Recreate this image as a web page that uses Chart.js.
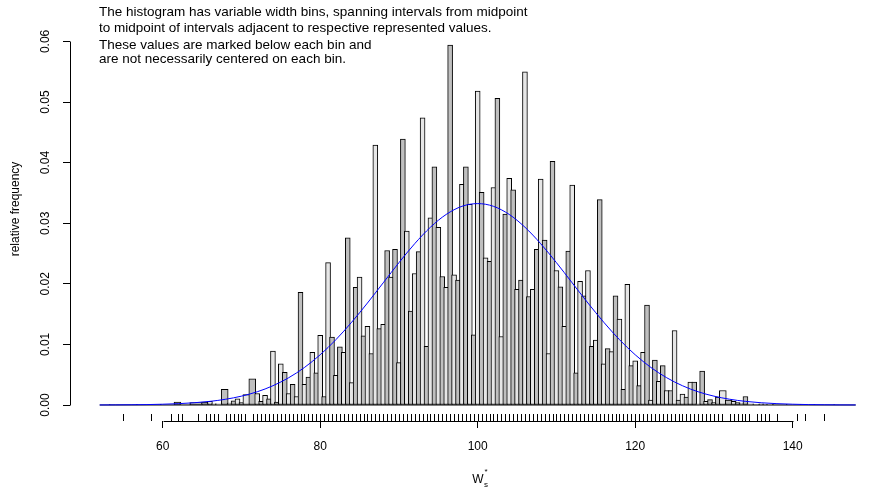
<!DOCTYPE html>
<html><head><meta charset="utf-8">
<script src="https://cdn.jsdelivr.net/npm/chart.js@4/dist/chart.umd.min.js"></script>
<style>html,body{margin:0;padding:0;background:#fff}#wrap{width:875px;height:487px;position:relative}</style>
</head><body><div id="wrap"><canvas id="c" width="875" height="487"></canvas></div>
<script>
// ---- data ----
const binValues = [
  55.0, 58.5, 61.0, 62.0, 62.5, 64.5, 65.5, 66.0, 66.5, 67.0, 68.0, 68.5, 69.0, 69.5, 70.0, 70.5,
  71.5, 72.0, 72.5, 73.0, 73.5, 74.0, 74.5, 75.0, 75.5, 76.0, 76.5, 77.0, 77.5, 78.0, 78.5, 79.0, 79.5,
  80.0, 80.5, 81.0, 81.5, 82.0, 82.5, 83.0, 83.5, 84.0, 84.5, 85.0, 85.5, 86.0, 86.5, 87.0, 87.5,
  88.0, 88.5, 89.0, 89.5, 90.0, 90.5, 91.0, 91.5, 92.0, 92.5, 93.0, 93.5, 94.0, 94.5, 95.0, 95.5,
  96.0, 96.5, 97.0, 97.5, 98.0, 98.5, 99.0, 99.5, 100.0, 100.5, 101.0, 101.5, 102.0, 102.5, 103.0, 103.5,
  104.0, 104.5, 105.0, 105.5, 106.0, 106.5, 107.0, 107.5, 108.0, 108.5, 109.0, 109.5, 110.0, 110.5, 111.0, 111.5,
  112.0, 112.5, 113.0, 113.5, 114.0, 114.5, 115.0, 115.5, 116.0, 116.5, 117.0, 117.5, 118.0, 118.5, 119.0, 119.5,
  120.0, 120.5, 121.0, 121.5, 122.0, 122.5, 123.0, 123.5, 124.0, 124.5, 125.0, 125.5, 126.0, 126.5, 127.0, 127.5,
  128.0, 128.5, 129.0, 129.5, 130.0, 130.5, 131.0, 132.0, 132.5, 133.0, 133.5, 134.0, 134.5, 135.5, 136.0, 136.5,
  137.0, 138.0, 140.5, 141.5, 144.0
];
const relFreq = [
  0.0001, 0.0001, 0.0001, 0.0005, 0.0001, 0.0004, 0.0005, 0.0006, 0.0002, 0.0002, 0.0026, 0.0003, 0.0007, 0.0010, 0.0004, 0.0017,
  0.0043, 0.0019, 0.0006, 0.0016, 0.0010, 0.0089, 0.0005, 0.0068, 0.0054, 0.0019, 0.0034, 0.0014, 0.0186, 0.0034, 0.0046, 0.0087, 0.0053,
  0.0115, 0.0014, 0.0235, 0.0112, 0.0049, 0.0096, 0.0087, 0.0276, 0.0037, 0.0194, 0.0211, 0.0114, 0.0130, 0.0085, 0.0429, 0.0126,
  0.0133, 0.0255, 0.0211, 0.0257, 0.0070, 0.0439, 0.0287, 0.0155, 0.0217, 0.0253, 0.0474, 0.0097, 0.0309, 0.0393, 0.0293, 0.0212,
  0.0194, 0.0594, 0.0215, 0.0206, 0.0364, 0.0393, 0.0331, 0.0116, 0.0518, 0.0351, 0.0243, 0.0237, 0.0359, 0.0506, 0.0113, 0.0315,
  0.0374, 0.0355, 0.0191, 0.0206, 0.0550, 0.0179, 0.0191, 0.0257, 0.0373, 0.0272, 0.0085, 0.0402, 0.0222, 0.0195, 0.0130, 0.0254,
  0.0363, 0.0053, 0.0204, 0.0180, 0.0222, 0.0097, 0.0107, 0.0339, 0.0068, 0.0093, 0.0088, 0.0180, 0.0142, 0.0026, 0.0199, 0.0065,
  0.0073, 0.0032, 0.0087, 0.0165, 0.0008, 0.0074, 0.0039, 0.0065, 0.0024, 0.0024, 0.0123, 0.0008, 0.0018, 0.0013, 0.0038, 0.0038,
  0.0002, 0.0056, 0.0006, 0.0009, 0.0004, 0.0013, 0.0024, 0.0008, 0.0006, 0.0004, 0.0003, 0.0014, 0.0002, 0.0001, 0.0002, 0.0001,
  0.0001, 0.0001, 0.0001, 0.0001, 0.0001
];
const curveX = [52,54,56,58,60,62,64,66,68,70,72,74,76,78,80,82,84,86,88,90,92,94,96,98,100,
  102,104,106,108,110,112,114,116,118,120,122,124,126,128,130,132,134,136,138,140,142,144,146,148];
const curveY = [0.00001,0.00002,0.00004,0.00007,0.00013,0.00022,0.00037,0.00060,0.00095,0.00146,0.00218,0.00318,0.00450,
  0.00619,0.00829,0.01079,0.01367,0.01683,0.02016,0.02349,0.02662,0.02934,0.03145,0.03279,0.03324,
  0.03279,0.03145,0.02934,0.02662,0.02349,0.02016,0.01683,0.01367,0.01079,0.00829,0.00619,0.00450,0.00318,
  0.00218,0.00146,0.00095,0.00060,0.00037,0.00022,0.00013,0.00007,0.00004,0.00002,0.00001];
const baselineX = [52, 148];
const xTicks = [60, 80, 100, 120, 140];
const xTickLabels = ['60', '80', '100', '120', '140'];
const yTicks = [0, 0.01, 0.02, 0.03, 0.04, 0.05, 0.06];
const yTickLabels = ['0.00', '0.01', '0.02', '0.03', '0.04', '0.05', '0.06'];
const noteLines = [
  'The histogram has variable width bins, spanning intervals from midpoint',
  'to midpoint of intervals adjacent to respective represented values.',
  'These values are marked below each bin and',
  'are not necessarily centered on each bin.'
];
const yTitle = 'relative frequency';

// ---- derived bin edges (midpoints between adjacent values) ----
const binLeft = binValues.map((v, i) => i === 0 ? v - (binValues[1] - v) / 2 : (binValues[i - 1] + v) / 2);
const binRight = binValues.map((v, i) => i === binValues.length - 1 ? v + (v - binValues[i - 1]) / 2 : (v + binValues[i + 1]) / 2);
const anchor = binValues.indexOf(81.0);
const barColors = binValues.map((v, i) => (Math.abs(i - anchor) % 2 === 0) ? '#e6e6e6' : '#bfbfbf');

const FONT = "'Liberation Sans', Arial, Helvetica, sans-serif";

const rPlugin = {
  id: 'rstyle',
  afterDatasetsUpdate(chart) {
    const xs = chart.scales.x;
    const meta = chart.getDatasetMeta(2);
    meta.data.forEach((el, i) => {
      const l = xs.getPixelForValue(binLeft[i]);
      const r = xs.getPixelForValue(binRight[i]);
      el.x = (l + r) / 2;
      el.width = (r - l) + 1;
    });
  },
  afterDraw(chart) {
    const ctx = chart.ctx, xs = chart.scales.x, ys = chart.scales.y, ca = chart.chartArea;
    ctx.save();
    ctx.strokeStyle = '#000';
    ctx.lineWidth = 1;
    // y axis line
    const xa = Math.round(ca.left) + 0.5;
    ctx.beginPath();
    ctx.moveTo(xa, Math.round(ys.getPixelForValue(yTicks[0])) + 0.5);
    ctx.lineTo(xa, Math.round(ys.getPixelForValue(yTicks[yTicks.length - 1])) + 0.5);
    ctx.stroke();
    // x axis line
    const ya = Math.round(ca.bottom) + 0.5;
    ctx.beginPath();
    ctx.moveTo(Math.round(xs.getPixelForValue(xTicks[0])) + 0.5, ya);
    ctx.lineTo(Math.round(xs.getPixelForValue(xTicks[xTicks.length - 1])) + 0.5, ya);
    ctx.stroke();
    // rug
    ctx.beginPath();
    binValues.forEach(v => {
      const px = Math.round(xs.getPixelForValue(v)) + 0.5;
      ctx.moveTo(px, ca.bottom);
      ctx.lineTo(px, ca.bottom - 7);
    });
    ctx.stroke();
    // y tick labels (rotated, R style)
    ctx.fillStyle = '#000';
    ctx.font = '12px ' + FONT;
    ctx.textAlign = 'center';
    ctx.textBaseline = 'alphabetic';
    yTicks.forEach((v, i) => {
      ctx.save();
      ctx.translate(49, ys.getPixelForValue(v));
      ctx.rotate(-Math.PI / 2);
      ctx.fillText(yTickLabels[i], 0, 0);
      ctx.restore();
    });
    // y title
    ctx.save();
    ctx.translate(19, 209);
    ctx.rotate(-Math.PI / 2);
    ctx.fillText(yTitle, 0, 0);
    ctx.restore();
    // note text
    ctx.textAlign = 'left';
    ctx.textBaseline = 'middle';
    ctx.font = '13.5px ' + FONT;
    const ly = [12.5, 28, 45, 59.5];
    noteLines.forEach((t, i) => ctx.fillText(t, 99, ly[i]));
    // x title W*_s
    ctx.textAlign = 'center';
    ctx.textBaseline = 'alphabetic';
    ctx.font = '12px ' + FONT;
    ctx.fillText('W', 478, 483);
    ctx.font = '8px ' + FONT;
    ctx.fillText('*', 486, 474);
    ctx.fillText('s', 486, 487);
    ctx.restore();
  }
};

new Chart(document.getElementById('c'), {
  type: 'bar',
  data: {
    datasets: [
      {
        type: 'line', label: 'normal', order: 0,
        data: curveX.map((x, i) => ({x: x, y: curveY[i]})),
        borderColor: '#0000ff', borderWidth: 1, pointRadius: 0, fill: false,
        cubicInterpolationMode: 'monotone'
      },
      {
        type: 'line', label: 'base', order: 1,
        data: baselineX.map(x => ({x: x, y: 0})),
        borderColor: '#000000', borderWidth: 1, pointRadius: 0, fill: false
      },
      {
        type: 'bar', label: 'freq', order: 2,
        data: binValues.map((v, i) => ({x: v, y: relFreq[i]})),
        backgroundColor: barColors, borderColor: '#000000', borderWidth: 1, borderSkipped: false,
        barPercentage: 1, categoryPercentage: 1
      }
    ]
  },
  options: {
    responsive: false, animation: false, devicePixelRatio: 1,
    layout: {padding: {left: 0, right: 13, top: 29, bottom: 0}},
    plugins: {legend: {display: false}, tooltip: {enabled: false}, title: {display: false}},
    scales: {
      x: {
        type: 'linear', min: 48.23, max: 148.8, offset: false, bounds: 'data',
        afterBuildTicks: s => { s.ticks = xTicks.map(v => ({value: v})); },
        afterFit: s => { s.height = 66; },
        grid: {offset: false, drawOnChartArea: false, drawTicks: true, tickLength: 7, color: '#000', lineWidth: 1},
        border: {display: false},
        ticks: {padding: 11, color: '#000', font: {family: FONT, size: 12}, maxRotation: 0, autoSkip: false,
          callback: (v, i) => xTickLabels[i]}
      },
      y: {
        type: 'linear', min: -0.00264, max: 0.06205, bounds: 'data',
        afterBuildTicks: s => { s.ticks = yTicks.map(v => ({value: v})); },
        afterFit: s => { s.width = 70; },
        grid: {offset: false, drawOnChartArea: false, drawTicks: true, tickLength: 7, color: '#000', lineWidth: 1},
        border: {display: false},
        ticks: {display: false}
      }
    }
  },
  plugins: [rPlugin]
});
</script></body></html>
